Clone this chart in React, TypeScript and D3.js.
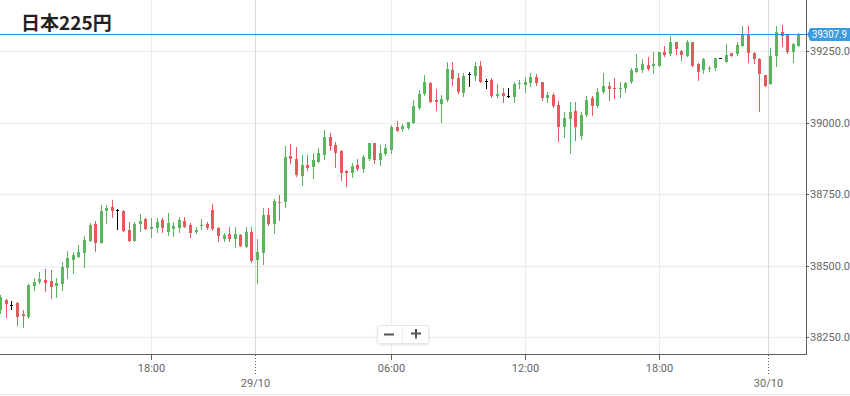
import React from "react";
import * as d3 from "d3";

// --- Data (15 min candles)
const opens = [
  38344, 38379, 38362, 38369, 38330, 38320, 38430, 38442, 38449, 38446,
  38429, 38435, 38492, 38519, 38531, 38545, 38587, 38645, 38580, 38691,
  38704, 38694, 38692, 38624, 38587, 38645, 38662, 38627, 38632, 38659,
  38617, 38627, 38632, 38656, 38642, 38618, 38640, 38645, 38694, 38630,
  38593, 38609, 38593, 38607, 38566, 38616, 38519, 38545, 38677, 38644,
  38722, 38721, 38883, 38872, 38813, 38852, 38846, 38863, 38887, 38951,
  38922, 38902, 38832, 38825, 38852, 38838, 38872, 38928, 38869, 38889,
  38904, 38984, 38977, 38980, 39000, 39050, 39100, 39138, 39079, 39065,
  39077, 39184, 39157, 39103, 39169, 39163, 39196, 39146, 39149, 39091,
  39103, 39091, 39089, 39134, 39132, 39138, 39159, 39140, 39087, 39097,
  39062, 38984, 39012, 39041, 38953, 39027, 39085, 39056, 39105, 39126,
  39121, 39118, 39122, 39140, 39178, 39184, 39202, 39196, 39198, 39246,
  39239, 39281, 39251, 39233, 39280, 39204, 39182, 39188, 39192, 39225,
  39211, 39243, 39239, 39269, 39307, 39243, 39222, 39167, 39134, 39231,
  39316, 39307, 39248, 39269,
];
const highs = [
  38397, 38383, 38377, 38372, 38344, 38435, 38456, 38477, 38488, 38484,
  38456, 38513, 38551, 38548, 38572, 38603, 38648, 38657, 38712, 38712,
  38729, 38697, 38694, 38653, 38653, 38679, 38665, 38665, 38665, 38667,
  38683, 38653, 38669, 38671, 38648, 38636, 38663, 38653, 38715, 38634,
  38613, 38634, 38634, 38610, 38634, 38634, 38592, 38700, 38702, 38732,
  38747, 38918, 38924, 38914, 38887, 38887, 38893, 38910, 38974, 38963,
  38933, 38904, 38834, 38860, 38872, 38887, 38930, 38930, 38922, 38924,
  38992, 39006, 38994, 39003, 39079, 39114, 39167, 39143, 39117, 39097,
  39210, 39213, 39173, 39173, 39178, 39210, 39216, 39152, 39155, 39134,
  39120, 39120, 39140, 39149, 39159, 39173, 39169, 39143, 39108, 39103,
  39076, 39038, 39073, 39073, 39038, 39091, 39091, 39120, 39173, 39143,
  39157, 39143, 39143, 39190, 39239, 39222, 39229, 39246, 39248, 39266,
  39301, 39283, 39252, 39289, 39283, 39208, 39227, 39198, 39227, 39225,
  39274, 39243, 39283, 39338, 39338, 39248, 39225, 39167, 39260, 39339,
  39342, 39309, 39278, 39312,
];
const lows = [
  38334, 38320, 38349, 38292, 38285, 38316, 38414, 38439, 38411, 38386,
  38390, 38414, 38457, 38475, 38528, 38496, 38586, 38551, 38579, 38650,
  38671, 38628, 38620, 38585, 38585, 38622, 38626, 38601, 38616, 38617,
  38607, 38603, 38618, 38634, 38601, 38615, 38627, 38627, 38624, 38586,
  38586, 38586, 38566, 38568, 38565, 38513, 38438, 38505, 38643, 38613,
  38659, 38706, 38858, 38814, 38782, 38834, 38807, 38862, 38872, 38904,
  38846, 38799, 38778, 38811, 38834, 38828, 38869, 38858, 38852, 38887,
  38893, 38971, 38972, 38978, 38998, 39048, 39097, 39070, 39044, 39003,
  39076, 39132, 39103, 39093, 39129, 39149, 39142, 39120, 39090, 39090,
  39073, 39088, 39073, 39120, 39108, 39128, 39132, 39079, 39073, 39055,
  38937, 38951, 38895, 38939, 38942, 39021, 39027, 39054, 39103, 39079,
  39085, 39089, 39106, 39138, 39176, 39178, 39184, 39173, 39196, 39231,
  39237, 39239, 39219, 39231, 39196, 39149, 39173, 39181, 39182, 39225,
  39210, 39233, 39237, 39266, 39212, 39209, 39041, 39128, 39133, 39197,
  39266, 39243, 39210, 39266,
];
const closes = [
  38390, 38365, 38362, 38320, 38323, 38432, 38444, 38453, 38439, 38425,
  38438, 38496, 38527, 38537, 38546, 38589, 38642, 38580, 38691, 38702,
  38691, 38694, 38622, 38587, 38644, 38656, 38628, 38636, 38651, 38632,
  38648, 38638, 38659, 38636, 38615, 38624, 38643, 38630, 38627, 38603,
  38607, 38593, 38610, 38568, 38616, 38516, 38548, 38677, 38644, 38727,
  38719, 38881, 38873, 38817, 38852, 38840, 38869, 38895, 38951, 38918,
  38895, 38825, 38825, 38848, 38837, 38879, 38928, 38869, 38895, 38910,
  38986, 38972, 38989, 39001, 39058, 39100, 39140, 39073, 39070, 39082,
  39187, 39152, 39105, 39163, 39169, 39198, 39143, 39146, 39093, 39100,
  39091, 39091, 39135, 39138, 39140, 39159, 39138, 39085, 39097, 39058,
  38984, 39015, 39038, 38984, 39027, 39079, 39058, 39108, 39128, 39117,
  39118, 39122, 39138, 39184, 39190, 39204, 39188, 39204, 39245, 39237,
  39281, 39257, 39237, 39283, 39198, 39176, 39222, 39191, 39225, 39225,
  39237, 39233, 39272, 39307, 39243, 39223, 39168, 39128, 39231, 39318,
  39304, 39245, 39275, 39307.9,
];

// x axis ticks, in candle-index space
const timeTickLabels = ["18:00", "29/10", "06:00", "12:00", "18:00", "30/10"];
const timeTickIndex = [27, 45.6, 70, 94, 118, 137.5];
const timeTickIsDay = [false, true, false, false, false, true];

const priceTicks = [38250, 38500, 38750, 39000, 39250];
const lastPrice = 39307.9;
const title = "日本225円";

// --- Layout
const W = 850;
const H = 396;
const plotRight = 806;
const plotBottom = 354;

const GREEN = "#5cb65d";
const RED = "#e35b5c";
const GRID = "#ebebeb";
const AXIS = "#5f5f5f";
const LABEL = "#666";
const BLUE = "#2f8fd6";

const App: React.FC = () => {
  const x = d3.scaleLinear().domain([0, opens.length - 1]).range([0.3, 798.3]);
  const y = d3.scaleLinear().domain([38250, 39250]).range([337, 51]);

  const candles = opens.map((o, i) => ({
    o,
    h: highs[i],
    l: lows[i],
    c: closes[i],
    i,
  }));

  const yLast = Math.round(y(lastPrice)) + 0.5;
  const font = "Roboto, 'Noto Sans', sans-serif";

  return (
    <div style={{ position: "fixed", left: 0, top: 0, width: W, height: H, background: "#fff" }}>
      <svg width={W} height={H} style={{ display: "block" }}>
        <defs>
          <filter id="btnShadow" x="-20%" y="-30%" width="140%" height="160%">
            <feDropShadow dx="0" dy="1" stdDeviation="1" floodColor="#000" floodOpacity="0.12" />
          </filter>
        </defs>

        {/* horizontal grid */}
        {priceTicks.map((t) => (
          <line
            key={"hg" + t}
            x1={0}
            x2={plotRight}
            y1={Math.round(y(t)) + 0.5}
            y2={Math.round(y(t)) + 0.5}
            stroke={GRID}
          />
        ))}

        {/* vertical grid */}
        {timeTickIndex.map((t, k) => (
          <line
            key={"vg" + k}
            x1={Math.round(x(t)) + 0.5}
            x2={Math.round(x(t)) + 0.5}
            y1={0}
            y2={plotBottom}
            stroke={timeTickIsDay[k] ? "#d9d9d9" : GRID}
          />
        ))}

        {/* title */}
        <text
          x={21}
          y={30}
          fontFamily="'Noto Sans CJK JP', sans-serif"
          fontWeight="bold"
          fontSize={19}
          fill="#222"
        >
          {title}
        </text>

        {/* candles */}
        {candles.map((d) => {
          const cx = Math.round(x(d.i));
          const color = d.c > d.o ? GREEN : d.c < d.o ? RED : "#000";
          const top = Math.round(y(Math.max(d.o, d.c)));
          const bot = Math.round(y(Math.min(d.o, d.c)));
          const hy = Math.round(y(Math.max(d.h, d.o, d.c)));
          const ly = Math.round(y(Math.min(d.l, d.o, d.c)));
          return (
            <g key={"c" + d.i}>
              {ly > hy && (
                <line x1={cx + 0.5} x2={cx + 0.5} y1={hy} y2={ly + 1} stroke={color} strokeWidth={1} />
              )}
              <rect x={cx - 1} y={top} width={3} height={Math.max(1, bot - top)} fill={color} />
            </g>
          );
        })}

        {/* last price line */}
        <line x1={0} x2={808} y1={yLast} y2={yLast} stroke={BLUE} strokeWidth={1} />

        {/* axes */}
        <line x1={plotRight + 0.5} x2={plotRight + 0.5} y1={0} y2={plotBottom + 1} stroke={AXIS} />
        <line x1={0} x2={plotRight + 1} y1={plotBottom + 0.5} y2={plotBottom + 0.5} stroke={AXIS} />

        {/* right axis labels */}
        {priceTicks.map((t) => {
          const yy = Math.round(y(t)) + 0.5;
          return (
            <g key={"yl" + t}>
              <line x1={plotRight} x2={plotRight + 3} y1={yy} y2={yy} stroke={AXIS} />
              <text
                x={810}
                y={yy}
                dy="0.35em"
                fontFamily={font}
                fontSize={11}
                fill={LABEL}
              >
                {t.toFixed(1)}
              </text>
            </g>
          );
        })}

        {/* last price badge */}
        <path
          d={`M807,${yLast} L811,${yLast - 6.5} L850,${yLast - 6.5} L850,${yLast + 6.5} L811,${yLast + 6.5} Z`}
          fill="#3a9be0"
        />
        <rect x={809} y={yLast - 6.5} width={41} height={13} rx={3} fill="#3a9be0" />
        <text
          x={812}
          y={yLast}
          dy="0.35em"
          fontFamily={font}
          fontSize={10.5}
          textLength={35}
          lengthAdjust="spacingAndGlyphs"
          fill="#fff"
        >
          {lastPrice.toFixed(1)}
        </text>

        {/* bottom axis ticks and labels */}
        {timeTickIndex.map((t, k) => {
          const xx = Math.round(x(t)) + 0.5;
          const day = timeTickIsDay[k];
          return (
            <g key={"xl" + k}>
              {day ? (
                <line
                  x1={xx}
                  x2={xx}
                  y1={plotBottom + 1}
                  y2={plotBottom + 20}
                  stroke={AXIS}
                  strokeDasharray="1,2"
                />
              ) : (
                <line x1={xx} x2={xx} y1={plotBottom + 1} y2={plotBottom + 6} stroke={AXIS} />
              )}
              <text
                x={xx}
                y={day ? 383 : 368}
                dy="0.35em"
                textAnchor="middle"
                fontFamily={font}
                fontSize={11}
                fill={LABEL}
              >
                {timeTickLabels[k]}
              </text>
            </g>
          );
        })}

        {/* zoom buttons */}
        <g filter="url(#btnShadow)">
          <rect x={377.5} y={325.5} width={51} height={18} rx={2} fill="#fff" stroke="#e6e6e6" />
        </g>
        <line x1={402.5} x2={402.5} y1={326} y2={343} stroke="#ececec" />
        <line x1={384} x2={394} y1={334.5} y2={334.5} stroke="#555" strokeWidth={2} />
        <line x1={411} x2={421} y1={333.5} y2={333.5} stroke="#555" strokeWidth={2} />
        <line x1={416} x2={416} y1={329} y2={338.5} stroke="#555" strokeWidth={2} />

        {/* bottom border */}
        <line x1={0} x2={W} y1={394.5} y2={394.5} stroke="#e3e3e3" />
      </svg>
    </div>
  );
};

export default App;
